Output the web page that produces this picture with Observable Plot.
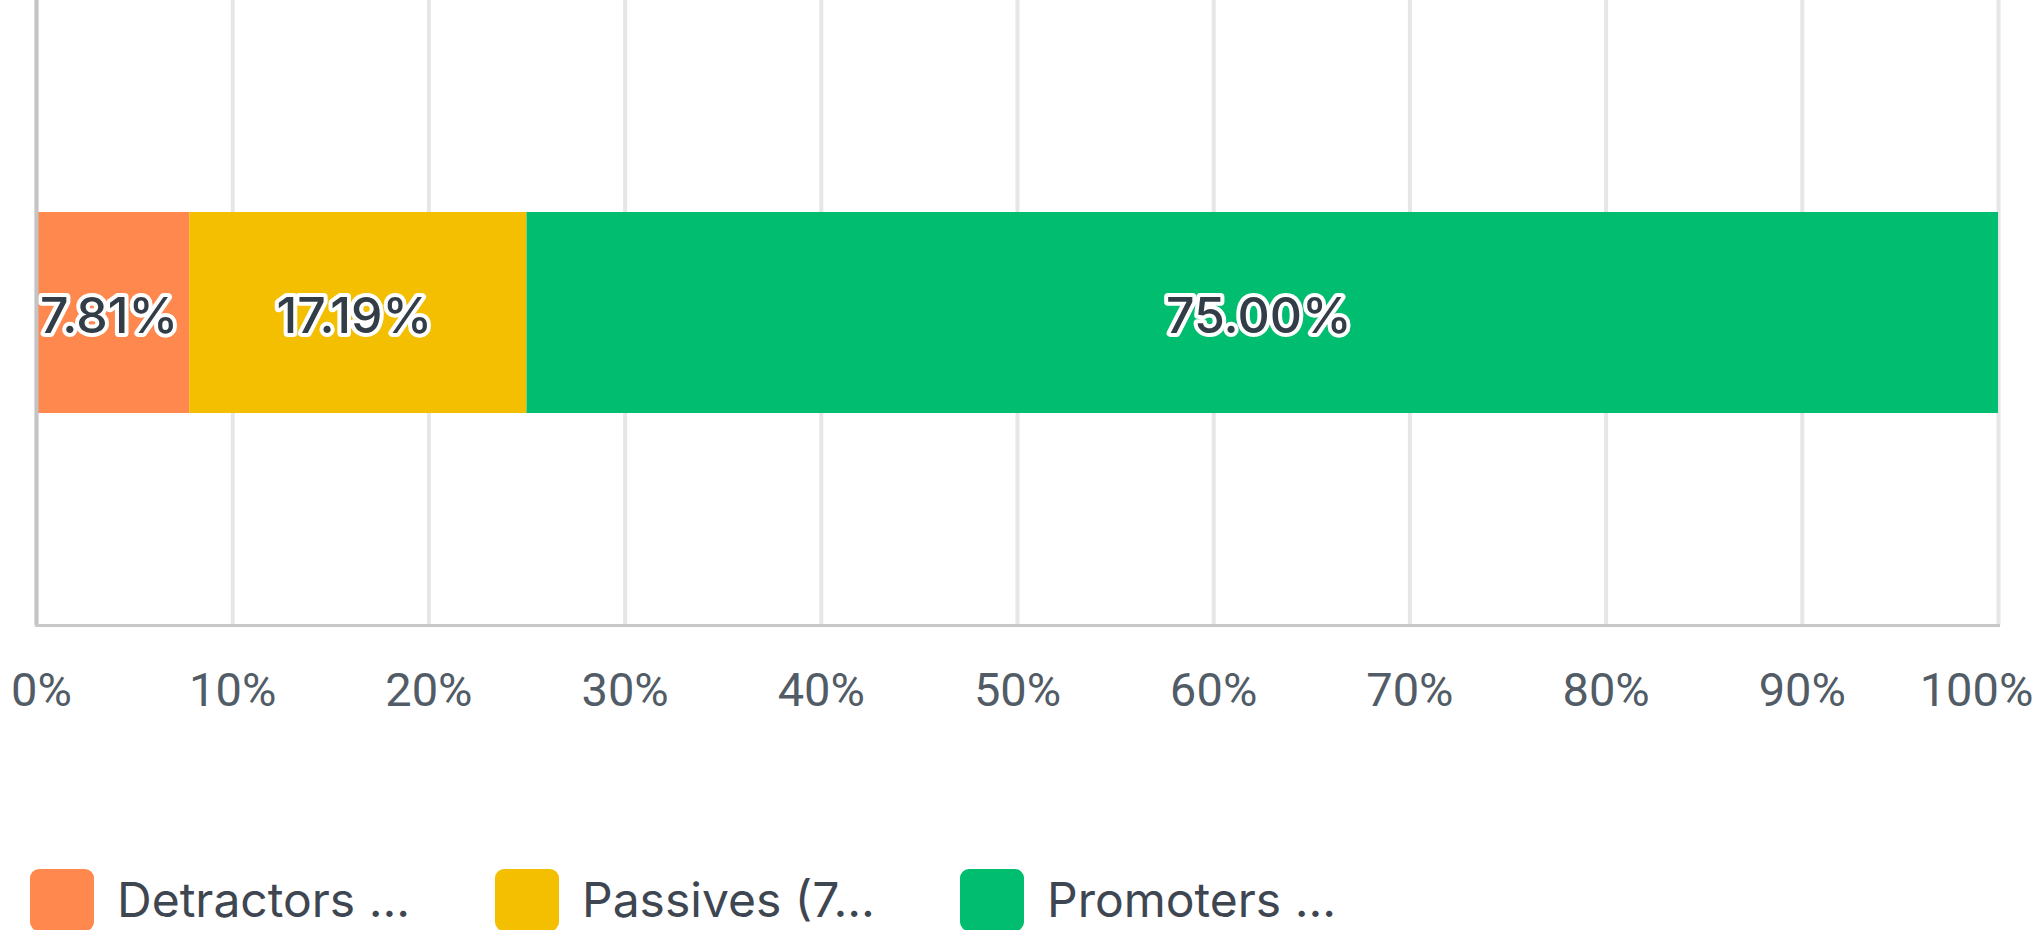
<!DOCTYPE html>
<html>
<head>
<meta charset="utf-8">
<script src="https://cdn.jsdelivr.net/npm/d3@7"></script>
<script src="https://cdn.jsdelivr.net/npm/@observablehq/plot@0.6"></script>
<style>
  html, body { margin: 0; padding: 0; background: #ffffff; }
  body { width: 2036px; height: 930px; overflow: hidden; font-family: Inter, Roboto, sans-serif; }
  #chart svg { display: block; }
  .legend { display: flex; padding-left: 30px; margin-top: 9px; }
  .legend-item { display: flex; align-items: center; width: 465px; }
  .swatch { width: 64px; height: 62px; border-radius: 9px; flex: none; }
  .legend-label { margin-left: 23px; font-size: 48px; color: #3d4651; white-space: nowrap; line-height: 62px; }
</style>
</head>
<body>
<div id="chart"></div>
<div class="legend" id="legend"></div>
<script>
const categories = ["Detractors ...", "Passives (7...", "Promoters ..."];
const values = [7.81, 17.19, 75.00];
const colors = ["#ff884e", "#f4bf00", "#00bd6f"];
const xTicks = [0, 10, 20, 30, 40, 50, 60, 70, 80, 90, 100];
const rowName = "NPS";

const data = categories.map((c, i) => ({category: c, value: values[i], row: rowName}));

const H = 860;
const fmt = d => d + "%";
const axisStyle = {tickFormat: fmt, tickSize: 0, tickPadding: 47, fontSize: 47, fontFamily: "Roboto, sans-serif", label: null};
const innerTicks = xTicks.filter(t => t !== xTicks[0] && t !== xTicks[xTicks.length - 1]);

const plot = Plot.plot({
  width: 2036,
  height: H,
  marginLeft: 36,
  marginRight: 38,
  marginTop: 0,
  marginBottom: H - 625,
  style: {fontFamily: "Inter, Roboto, sans-serif", color: "#525c66", background: "transparent"},
  x: {domain: [0, 100], ticks: xTicks, tickFormat: fmt},
  y: {domain: [rowName], padding: 0.513, axis: null},
  color: {domain: categories, range: colors},
  marks: [
    Plot.ruleX(xTicks, {stroke: "#e6e6e6", strokeWidth: 4}),
    Plot.barX(data, Plot.stackX({x: "value", y: "row", fill: "category"})),
    Plot.text(data, Plot.stackX({
      x: "value", y: "row",
      text: d => d.value.toFixed(2) + "%",
      fill: "#333d47", stroke: "white", strokeWidth: 8, fontSize: 50, fontWeight: 500,
      dy: 4, dx: -4
    })),
    Plot.ruleX([0], {stroke: "#c4c4c4", strokeWidth: 4}),
    Plot.frame({anchor: "bottom", stroke: "#c8c8c8", strokeWidth: 3}),
    Plot.axisX({...axisStyle, ticks: innerTicks}),
    Plot.axisX({...axisStyle, ticks: [xTicks[0]], dx: 5}),
    Plot.axisX({...axisStyle, ticks: [xTicks[xTicks.length - 1]], dx: -22})
  ]
});
document.getElementById("chart").appendChild(plot);

const legend = document.getElementById("legend");
categories.forEach((c, i) => {
  const item = document.createElement("div");
  item.className = "legend-item";
  const sw = document.createElement("div");
  sw.className = "swatch";
  sw.style.background = colors[i];
  const lab = document.createElement("span");
  lab.className = "legend-label";
  lab.textContent = c;
  item.appendChild(sw);
  item.appendChild(lab);
  legend.appendChild(item);
});
</script>
</body>
</html>
